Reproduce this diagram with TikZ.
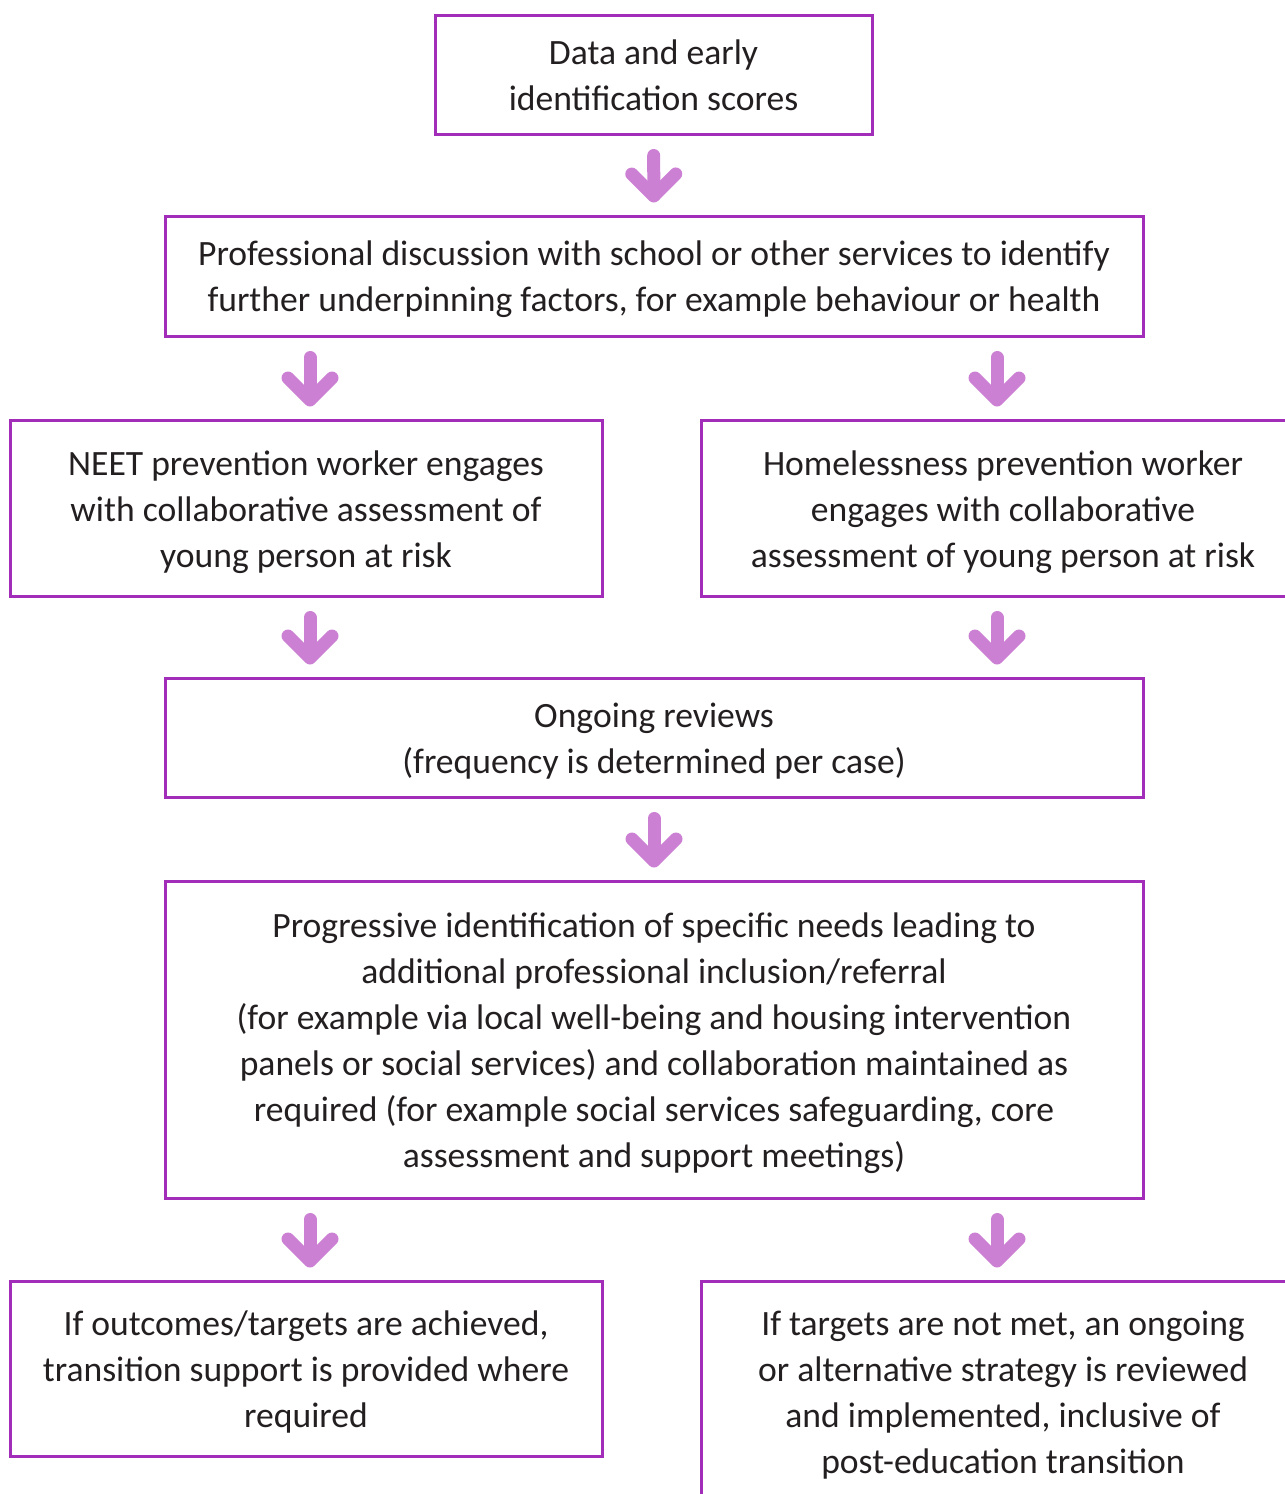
\documentclass[tikz,border=0pt]{standalone}
\usepackage{fontspec}
\setmainfont{Carlito}
\usetikzlibrary{arrows.meta}
\definecolor{boxline}{RGB}{162,45,184}
\definecolor{arrowfill}{RGB}{204,128,212}
\definecolor{textgrey}{RGB}{35,31,32}
\newcommand\topstrut{\rule{0pt}{0.98em}}
\tikzset{
  stage/.style={draw=boxline, line width=3pt, align=center, text=textgrey,
    font=\fontsize{35.6}{46}\selectfont, inner sep=0pt,
    execute at end node=\rule[-0.25em]{0pt}{0pt}},
  flow/.style={draw=arrowfill, line width=13pt, line cap=round,
    -{Straight Barb[round, length=22pt, width=44pt]},
    shorten <=20pt, shorten >=12pt},
}
\begin{document}
\begin{tikzpicture}[x=1pt, y=-1pt]
    \useasboundingbox (0,0) rectangle (1285,1494);

    \node[stage, minimum width=437pt, minimum height=119pt] (data) at(653.5, 74.5)
        {\topstrut Data and early\\identification scores};
    \node[stage, minimum width=978pt, minimum height=120pt] (discuss) at(654, 276)
        {\topstrut Professional discussion with school or other services to identify\\further underpinning factors, for example behaviour or health};
    \node[stage, minimum width=592pt, minimum height=176pt] (neet) at(306, 508)
        {\topstrut NEET prevention worker engages\\with collaborative assessment of\\young person at risk};
    \node[stage, minimum width=604pt, minimum height=176pt] (home) at(1003, 508)
        {\topstrut Homelessness prevention worker\\engages with collaborative\\assessment of young person at risk};
    \node[stage, minimum width=978pt, minimum height=119pt] (review) at(654, 737.5)
        {\topstrut Ongoing reviews\\(frequency is determined per case)};
    \node[stage, minimum width=978pt, minimum height=317pt] (needs) at(654, 1039.5)
        {\topstrut Progressive identification of specific needs leading to\\additional professional inclusion/referral\\(for example via local well-being and housing intervention\\panels or social services) and collaboration maintained as\\required (for example social services safeguarding, core\\assessment and support meetings)};
    \node[stage, minimum width=592pt, minimum height=175pt] (achieved) at(306, 1368.5)
        {\topstrut If outcomes/targets are achieved,\\transition support is provided where\\required};
    \node[stage, minimum width=604pt, minimum height=220pt] (notmet) at(1003, 1391)
        {\topstrut If targets are not met, an ongoing\\or alternative strategy is reviewed\\and implemented, inclusive of\\post-education transition};

    % arrows between the stages
    \draw[flow] (data) -- (discuss);
    \draw[flow] ([xshift=4pt]discuss.south -| neet.north) -- ([xshift=4pt]neet.north);
    \draw[flow] ([xshift=-6pt]discuss.south -| home.north) -- ([xshift=-6pt]home.north);
    \draw[flow] ([xshift=4pt]neet.south) -- ([xshift=4pt]neet.south |- review.north);
    \draw[flow] ([xshift=-6pt]home.south) -- ([xshift=-6pt]home.south |- review.north);
    \draw[flow] (review) -- (needs);
    \draw[flow] ([xshift=4pt]needs.south -| achieved.north) -- ([xshift=4pt]achieved.north);
    \draw[flow] ([xshift=-6pt]needs.south -| notmet.north) -- ([xshift=-6pt]notmet.north);
\end{tikzpicture}
\end{document}
